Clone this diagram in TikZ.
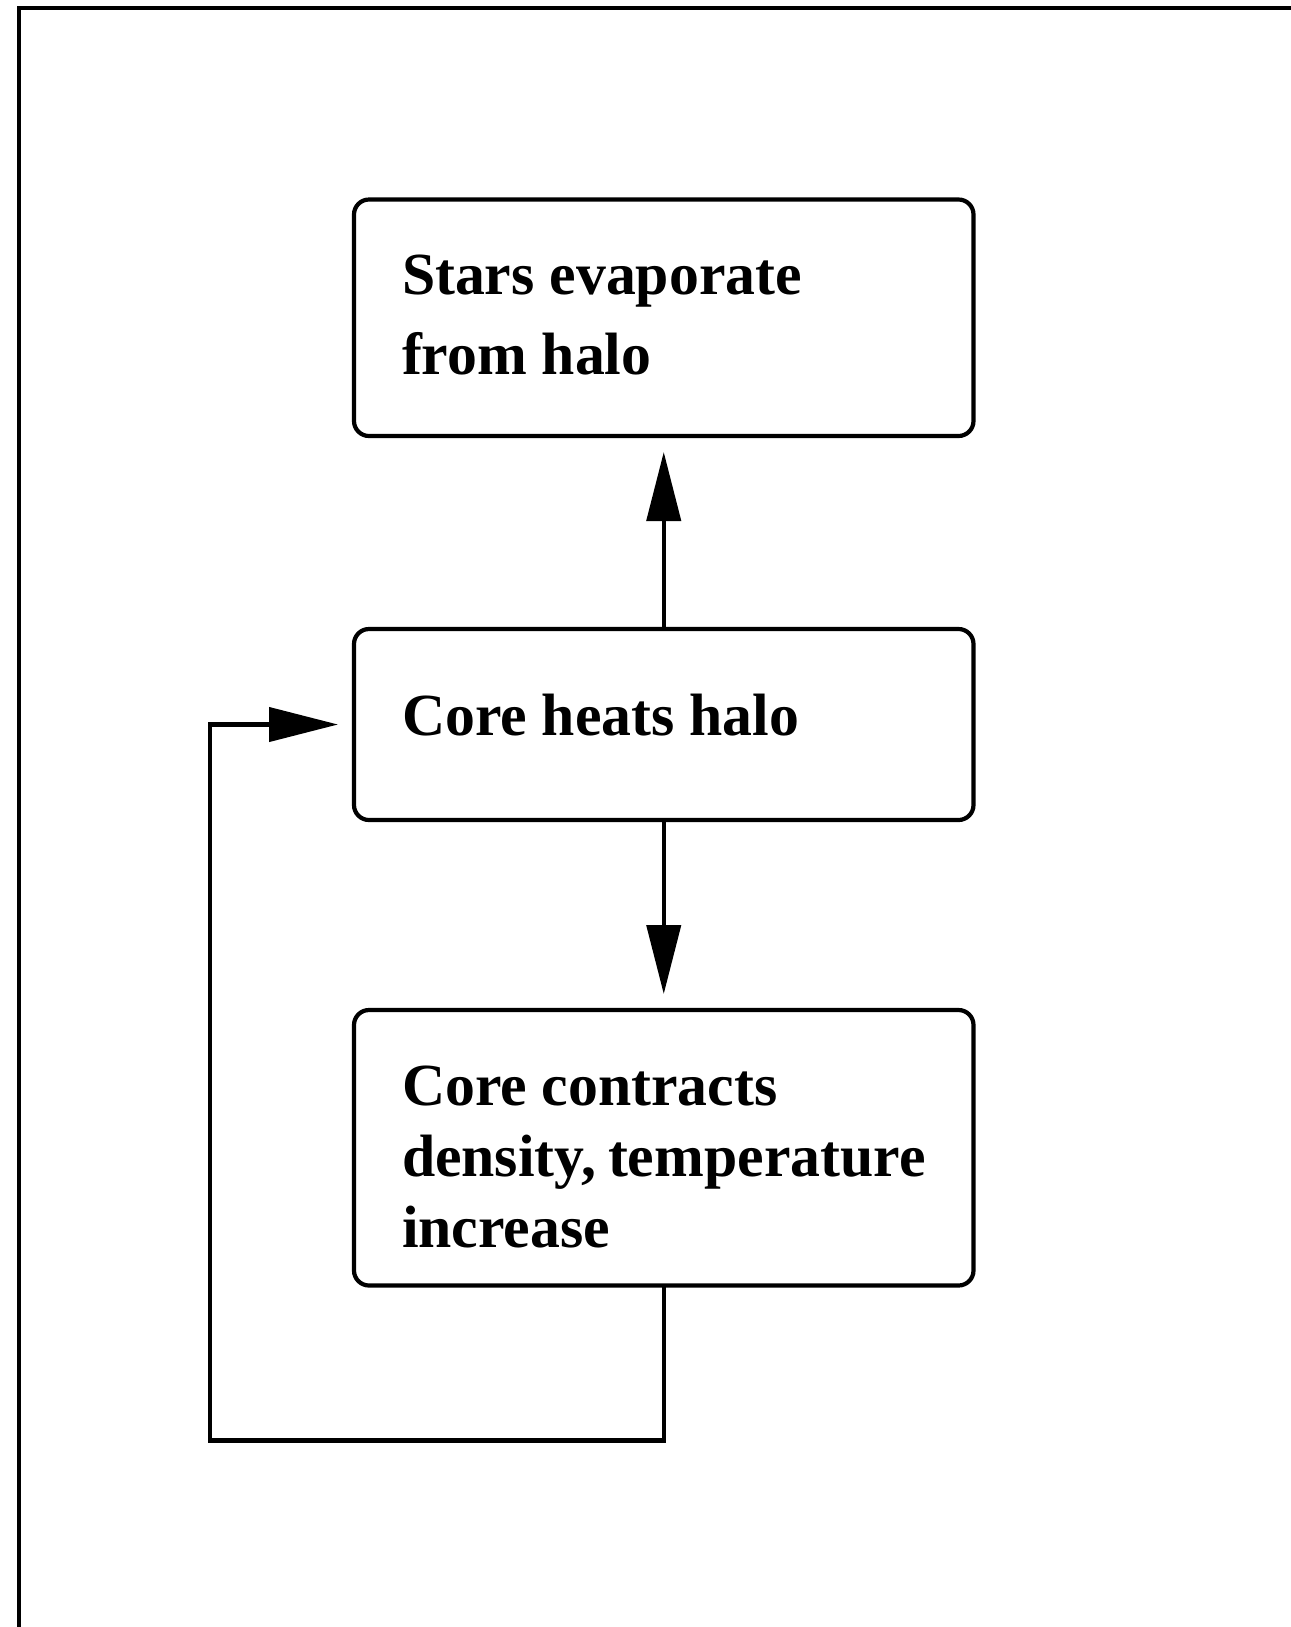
\documentclass[tikz,border=0pt]{standalone}
\usepackage{fontspec}
\setmainfont{Liberation Serif}
\usepackage{tikz}
\usetikzlibrary{positioning, arrows.meta}

\begin{document}
\begin{tikzpicture}[
  node distance=1.93cm,
  every node/.style={align=flush left, font=\bfseries\fontsize{17}{22.8}\selectfont},
  box/.style={draw, line width=0.042cm, rounded corners=0.15cm, outer sep=0pt,
    minimum width=6.195cm, text width=5.235cm, inner xsep=0.48cm},
  arrow/.style={-{Triangle[length=0.69cm, width=0.34cm]}, line width=0.042cm, shorten >=0.16cm}
  ]

\useasboundingbox (0,0) rectangle (12.91,-16.27);
\draw[line width=0.042cm] (0.19,-0.083) rectangle (13.5,-17);

\node[box, minimum height=1.91cm, text depth=0.2cm] (heat) at (6.6375,-7.245) {Core heats halo};
\node[box, above=of heat, minimum height=2.365cm, text height=0.345cm] (evap) {Stars evaporate\\from halo};
\node[box, below=1.90cm of heat, minimum height=2.755cm, text height=0.585cm,
  font=\bfseries\fontsize{17}{20.2}\selectfont] (contract) {Core contracts\\density,~temperature\\increase};
\coordinate (loop) at (2.10,-14.405);

\draw[arrow] (heat) -- (evap);
\draw[arrow] (heat) -- (contract);
\draw[arrow] (contract.south) |- (loop) |- (heat.west);
\end{tikzpicture}
\end{document}
